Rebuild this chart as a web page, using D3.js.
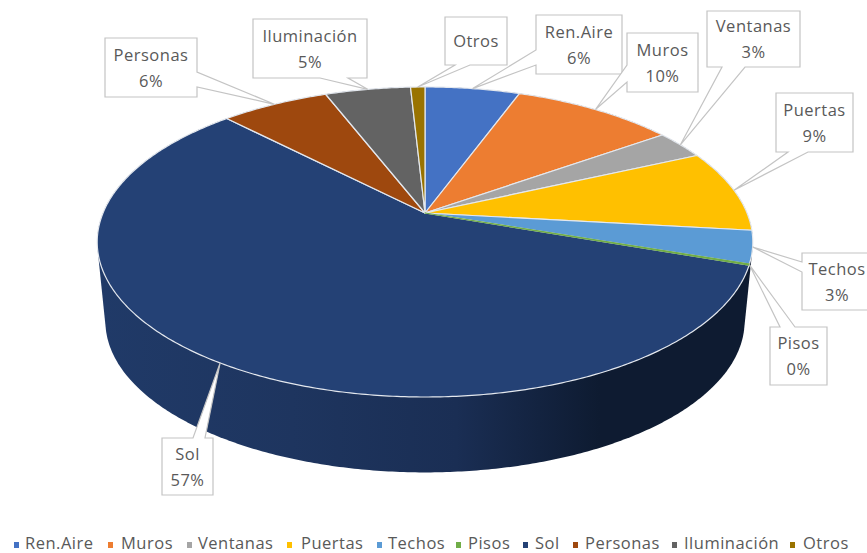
<!DOCTYPE html>
<html><head><meta charset="utf-8">
<script src="https://cdn.jsdelivr.net/npm/d3@7"></script>
<style>html,body{margin:0;padding:0;background:#fff}svg{display:block}text{font-family:"Open Sans",sans-serif;fill:#595959;letter-spacing:.5px}</style>
</head><body><div id="c"></div>
<script>
const categories=["Ren.Aire","Muros","Ventanas","Puertas","Techos","Pisos","Sol","Personas","Iluminación","Otros"];
const values=[5.6,9.6,3.0,8.6,3.4,0.1,57.4,6.4,5.05,0.85];
const showPct=[true,true,true,true,true,true,true,true,true,false];
const colors=["#4472c4","#ed7d31","#a5a5a5","#ffc000","#5b9bd5","#70ad47","#244175","#9e480e","#636363","#997300"];
// label box [x,y,w,h] and callout base [side, start, end]
const boxes=[[536,15,86,59],[627,33,71,59],[707,11,93,56],[776,93,77,59],[802,253,70,57],[770,327,57,58],[162,438,51,57],[105,38,92,59],[253,19,114,59],[445,17,62,48]];
const bases=[["l",50,65],["l",65,82],["b",722,745],["b",788,808],["l",262,272],["t",780,795],["t",193,205],["r",72,87],["b",320,348],["b",455,470]];
const legendSwatchX=[14,108,187,287,377,456,523,573,672,790];
const legendTextX=[25,121,198,301,388,468,535,585,684,803];

const W=867,H=553;
const svg=d3.select("#c").append("svg").attr("width",W).attr("height",H);
const defs=svg.append("defs");
const g=defs.append("linearGradient").attr("id","wall").attr("gradientUnits","userSpaceOnUse").attr("x1",97).attr("x2",750).attr("y1",0).attr("y2",0);
[[0,"#203a68"],[0.3,"#1e355f"],[0.55,"#1a2e54"],[0.77,"#0e1b31"],[1,"#0e1b31"]].forEach(s=>g.append("stop").attr("offset",s[0]).attr("stop-color",s[1]));

// perspective projection of the disc
const cx=425,cy=213,a=322,b=149.6,k=0.187;
const proj=(th,scale=1,dy=0)=>{const u=Math.sin(th),v=-Math.cos(th),d=1-k*v;return [cx+scale*a*u/d,cy+dy+scale*b*v/d];};
const arcs=d3.pie().sort(null).value(d=>d)(values);
const total=d3.sum(values);
const pts=(s,e,scale,dy)=>{const n=Math.max(2,Math.ceil((e-s)/0.01));return d3.range(n+1).map(i=>proj(s+(e-s)*i/n,scale,dy));};
const line=d3.line();
const lowS=0.975,lowD=80;

// wall: hull of the top disc and the lower disc
const hull=d3.polygonHull(pts(0,2*Math.PI,1,0).concat(pts(0,2*Math.PI,lowS,lowD)));
svg.append("path").attr("d",line(hull)+"Z").attr("fill","url(#wall)");
// tops
svg.append("g").selectAll("path").data(arcs).join("path")
 .attr("d",d=>line([[cx,cy]].concat(pts(d.startAngle,d.endAngle,1,0)))+"Z")
 .attr("fill",(d,i)=>colors[i]).attr("stroke",(d,i)=>i===5?colors[i]:"#e4e8ee").attr("stroke-width",1.2).attr("stroke-linejoin","round")
 .filter((d,i)=>i===5).raise();

// callouts
const lab=svg.append("g");
arcs.forEach((d,i)=>{
 const [x,y,w,h]=boxes[i],[side,s,e]=bases[i],tip=proj((d.startAngle+d.endAngle)/2);
 let p=[[x,y]];
 if(side==="t")p.push([s,y],tip,[e,y]);
 p.push([x+w,y]);
 if(side==="r")p.push([x+w,s],tip,[x+w,e]);
 p.push([x+w,y+h]);
 if(side==="b")p.push([e,y+h],tip,[s,y+h]);
 p.push([x,y+h]);
 if(side==="l")p.push([x,e],tip,[x,s]);
 lab.append("path").attr("d",line(p)+"Z").attr("fill","#fff").attr("stroke","#c4c4c4").attr("stroke-width",1.2);
 const tx=x+w/2;
 if(showPct[i]){
  lab.append("text").attr("x",tx).attr("y",y+h/2-7).attr("text-anchor","middle").attr("font-size",16.5).text(categories[i]);
  lab.append("text").attr("x",tx).attr("y",y+h/2+19).attr("text-anchor","middle").attr("font-size",16.5).text(Math.round(values[i]/total*100)+"%");
 } else {
  lab.append("text").attr("x",tx).attr("y",y+h/2+6).attr("text-anchor","middle").attr("font-size",16.5).text(categories[i]);
 }
});

// legend
const lg=svg.append("g");
categories.forEach((c,i)=>{
 lg.append("rect").attr("x",legendSwatchX[i]).attr("y",542).attr("width",5).attr("height",6).attr("fill",colors[i]);
 lg.append("text").attr("x",legendTextX[i]).attr("y",549).attr("font-size",16.5).text(c);
});
</script></body></html>
